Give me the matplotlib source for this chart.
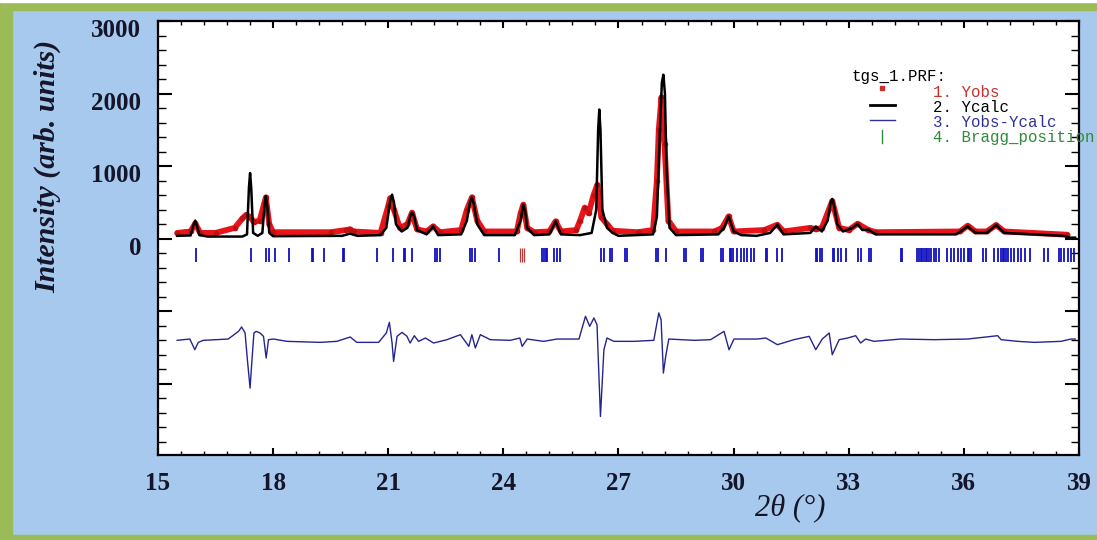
import matplotlib.pyplot as plt
import numpy as np
from matplotlib.patches import Rectangle
from matplotlib.ticker import MultipleLocator, FuncFormatter
from matplotlib.transforms import ScaledTranslation

# profile vertices (2theta in degrees, intensity)
calc_x = [15.5, 15.85, 15.92, 15.97, 16.02, 16.08, 16.3, 17.2, 17.32, 17.37, 17.40, 17.43,
          17.48, 17.6, 17.72, 17.78, 17.81, 17.85, 17.90, 18.0, 19.8, 20.0, 20.2, 20.8,
          20.95, 21.05, 21.1, 21.15, 21.2, 21.35, 21.5, 21.58, 21.62, 21.68, 21.75, 22.0,
          22.17, 22.3, 22.9, 23.05, 23.13, 23.18, 23.23, 23.32, 23.5, 24.3, 24.45, 24.52,
          24.57, 24.62, 24.8, 25.2, 25.36, 25.5, 26.0, 26.3, 26.42, 26.47, 26.50, 26.53,
          26.58, 26.7, 26.85, 27.0, 27.9, 28.0, 28.08, 28.13, 28.17, 28.21, 28.25, 28.33,
          28.5, 29.6, 29.75, 29.87, 30.0, 30.2, 30.6, 30.95, 31.14, 31.3, 32.0, 32.14,
          32.3, 32.45, 32.53, 32.57, 32.62, 32.7, 32.85, 33.1, 33.23, 33.35, 33.52, 33.7,
          35.8, 36.1, 36.3, 36.6, 36.84, 37.05, 38.6, 38.75, 38.9]
calc_y = [40, 45, 180, 250, 170, 50, 30, 30, 60, 700, 905, 700,
          80, 40, 80, 480, 585, 450, 80, 35, 40, 70, 40, 50,
          150, 520, 607, 500, 200, 100, 150, 320, 360, 300, 120, 60,
          170, 50, 60, 250, 500, 565, 480, 200, 50, 50, 250, 470,
          380, 150, 50, 60, 240, 60, 50, 80, 400, 1500, 1780, 1500,
          400, 150, 80, 40, 60, 300, 1500, 2150, 2260, 2000, 1000, 150,
          50, 60, 150, 308, 100, 50, 40, 80, 193, 60, 80, 170,
          100, 250, 500, 548, 450, 200, 100, 150, 207, 120, 124, 60,
          60, 170, 80, 80, 190, 80, 40, 15, 15]

obs_x = [15.5, 15.85, 15.97, 16.1, 16.5, 17.0, 17.2, 17.3, 17.40, 17.5, 17.65,
         17.81, 17.9, 18.0, 19.5, 19.9, 20.0, 20.1, 20.8, 21.0, 21.05, 21.15, 21.3,
         21.5, 21.62, 21.75, 22.0, 22.17, 22.35, 22.9, 23.05, 23.18, 23.32, 23.5,
         24.35, 24.45, 24.52, 24.62, 24.8, 25.2, 25.36, 25.5, 25.9, 26.0, 26.12,
         26.22, 26.35, 26.45, 26.55, 26.7, 26.85, 27.5, 27.9, 28.0, 28.05, 28.12,
         28.2, 28.3, 28.5, 29.5, 29.7, 29.87, 30.0, 30.8, 31.14, 31.3, 32.0, 32.14,
         32.3, 32.57, 32.75, 33.0, 33.23, 33.5, 33.7, 35.9, 36.1, 36.3, 36.6, 36.84,
         37.05, 38.7]
obs_y = [80, 100, 210, 80, 80, 150, 280, 330, 300, 230, 250,
         570, 200, 90, 90, 120, 130, 100, 80, 450, 560, 400, 150,
         200, 360, 130, 100, 170, 90, 120, 400, 570, 250, 100,
         100, 350, 470, 150, 90, 100, 240, 100, 120, 250, 430,
         350, 600, 745, 300, 200, 110, 90, 120, 800, 1500, 1950,
         1300, 250, 100, 100, 150, 308, 100, 120, 193, 100, 150, 130,
         150, 520, 150, 120, 207, 124, 90, 100, 180, 100, 100, 190,
         100, 55]

diff_x = [15.5, 15.83, 15.96, 16.05, 16.18, 16.83, 17.10, 17.18, 17.27, 17.33,
          17.40, 17.45, 17.50, 17.56, 17.66, 17.75, 17.82, 17.88, 18.01, 18.36,
          19.23, 19.66, 20.01, 20.18, 20.75, 20.95, 21.03, 21.10, 21.14, 21.23,
          21.36, 21.49, 21.57, 21.68, 21.79, 21.97, 22.18, 22.53, 22.88, 23.10,
          23.18, 23.27, 23.40, 23.66, 24.18, 24.43, 24.49, 24.62, 25.05, 25.40,
          25.97, 26.14, 26.25, 26.36, 26.44, 26.53, 26.62, 26.70, 26.88, 27.40,
          27.92, 28.05, 28.11, 28.17, 28.23, 28.31, 28.97, 29.40, 29.75, 29.88,
          30.01, 30.62, 30.84, 31.14, 31.57, 31.97, 32.14, 32.31, 32.49, 32.57,
          32.75, 32.97, 33.18, 33.31, 33.44, 33.66, 34.36, 35.23, 36.10, 36.88,
          36.97, 37.40, 37.84, 38.53, 38.79, 38.9]
diff_y = [0, 18, -129, -28, 0, 18, 124, 184, 101, -267,
          -658, -267, 101, 124, 101, 55, -244, 9, 18, -14,
          -28, -14, 46, -28, -28, 101, 248, -37, -290, 55,
          110, 55, -37, 64, -14, 32, -37, 9, 78, -83,
          78, -106, 78, 9, 0, 32, -83, 18, -14, 18,
          18, 331, 193, 308, 216, -1049, -129, 32, -14, -14,
          0, 377, 285, -451, -221, 18, 0, 9, 124, -129,
          18, 18, 32, -60, 9, 55, -129, 18, 101, -198,
          9, 32, 64, -37, 18, -14, 18, 9, 18, 64,
          9, -14, -28, -14, 18, 18]

bragg_blue = [15.99, 17.43, 17.82, 17.90, 18.05, 18.42, 19.01, 19.04, 19.33, 19.82,
              19.86, 20.72, 21.12, 21.40, 21.44, 21.63, 22.21, 22.27, 22.34, 23.12,
              23.18, 23.27, 23.88, 25.01, 25.05, 25.10, 25.14, 25.31, 25.40, 25.47,
              26.55, 26.62, 26.79, 26.84, 27.18, 27.23, 27.97, 28.03, 28.23, 28.70,
              28.75, 29.16, 29.21, 29.66, 29.73, 29.90, 29.94, 29.99, 30.10, 30.18,
              30.27, 30.36, 30.45, 30.53, 30.84, 30.88, 31.14, 31.25, 32.14, 32.18,
              32.25, 32.31, 32.58, 32.62, 32.71, 32.81, 32.92, 33.25, 33.33, 33.53,
              33.57, 34.36, 34.40, 34.79, 34.84, 34.88, 34.92, 34.97, 35.01, 35.05,
              35.10, 35.14, 35.23, 35.27, 35.36, 35.57, 35.66, 35.75, 35.84, 35.92,
              36.01, 36.10, 36.14, 36.18, 36.49, 36.57, 36.79, 36.88, 36.97, 37.01,
              37.05, 37.10, 37.14, 37.23, 37.31, 37.40, 37.49, 37.58, 37.71, 38.10,
              38.18, 38.49, 38.53, 38.62, 38.71, 38.79, 38.88]
bragg_red = [24.44, 24.49, 24.55]

diff_offset = -1400
legend_lines = ["1. Yobs", "2. Ycalc", "3. Yobs-Ycalc", "4. Bragg_position"]
legend_colors = ["#c8302e", "black", "#30309a", "#2f8a3a"]

bg = "#a8c9ee"
fig = plt.figure(figsize=(10.97, 5.40), dpi=100, facecolor=bg)
green = "#9bbb59"
fig.add_artist(Rectangle((0, 0), 12 / 1097, 1, transform=fig.transFigure, color=green, zorder=-5))
fig.add_artist(Rectangle((0, 1 - 10 / 540), 1, 8 / 540, transform=fig.transFigure, color=green, zorder=-5))
fig.add_artist(Rectangle((0, 1 - 2 / 540), 1, 2 / 540, transform=fig.transFigure, color="white", zorder=-5))
fig.add_artist(Rectangle((0, 0), 1, 5 / 540, transform=fig.transFigure, color=green, zorder=-5))

ax = fig.add_axes([0.144, 0.1574, 0.8396, 0.8037])
ax.set_facecolor("white")

ax.plot(obs_x, obs_y, color="#e8141a", lw=4.2, solid_capstyle="round", zorder=2)
ax.plot(obs_x, obs_y, "o", color="#c01010", ms=3, zorder=2)
ax.plot(calc_x, calc_y, color="black", lw=1.8, zorder=3)
ax.plot(diff_x, np.array(diff_y) + diff_offset, color="#25258f", lw=1.0, zorder=3)
ax.vlines(bragg_blue, -320, -125, color="#1010c0", lw=1.3, zorder=3)
ax.vlines(bragg_red, -320, -125, color="#b83838", lw=0.9, zorder=3)

ax.set_xlim(15, 39)
ax.set_ylim(-2980, 3000)

ax.xaxis.set_major_locator(MultipleLocator(3))
ax.xaxis.set_minor_locator(MultipleLocator(0.6))
ax.yaxis.set_major_locator(MultipleLocator(1000))
ax.yaxis.set_minor_locator(MultipleLocator(200))
ax.yaxis.set_major_formatter(FuncFormatter(lambda v, p: f"{v:.0f}" if v >= 0 else ""))

ax.tick_params(axis="x", which="major", direction="in", length=5, width=1.5,
               top=True, pad=12, labelsize=18)
ax.tick_params(axis="x", which="minor", direction="in", length=3, width=1.0, top=True)
ax.tick_params(axis="y", which="major", direction="in", length=10, width=1.5,
               right=True, pad=12, labelsize=18)
ax.tick_params(axis="y", which="minor", direction="in", length=6, width=1.0, right=True)
for lab in ax.get_xticklabels() + ax.get_yticklabels():
    lab.set_fontfamily("Liberation Serif")
    lab.set_fontweight("bold")
    lab.set_color("#15152a")
off = ScaledTranslation(0, -7 / 100, fig.dpi_scale_trans)
for lab in ax.get_yticklabels():
    lab.set_transform(lab.get_transform() + off)
for s in ax.spines.values():
    s.set_linewidth(1.6)

fig.text(48 / 1097, 1 - 166 / 540, "Intensity (arb. units)", rotation=90,
         ha="center", va="center", fontsize=21.5, fontweight="bold", fontstyle="italic",
         family="Liberation Serif", color="#15152a")
fig.text(790 / 1097, 1 - 508 / 540, "2\u03b8 (\u00b0)", ha="center", va="center",
         fontsize=22, fontstyle="italic", family="Liberation Serif", color="#15152a")

# hand made legend, the way the refinement program prints it
mono = "Liberation Mono"
ax.text(0.7535, 0.871, "tgs_1.PRF:", transform=ax.transAxes, family=mono,
        fontsize=11.3, va="center", ha="left", zorder=6)
ax.plot([0.786], [0.846], "s", color="#c8302e", ms=3.5, transform=ax.transAxes, zorder=6)
ax.plot([0.773, 0.800], [0.806, 0.806], color="black", lw=2, transform=ax.transAxes, zorder=6)
ax.plot([0.773, 0.800], [0.772, 0.772], color="#30309a", lw=1, transform=ax.transAxes, zorder=6)
ax.plot([0.786, 0.786], [0.720, 0.748], color="#2f8a3a", lw=1, transform=ax.transAxes, zorder=6)
for i, (txt, col) in enumerate(zip(legend_lines, legend_colors)):
    ax.text(0.8415, 0.836 - i * 15 / 434, txt, transform=ax.transAxes, family=mono,
            fontsize=11.3, color=col, va="center", ha="left", zorder=6)

fig.savefig("out.png", dpi=100, facecolor=fig.get_facecolor())
